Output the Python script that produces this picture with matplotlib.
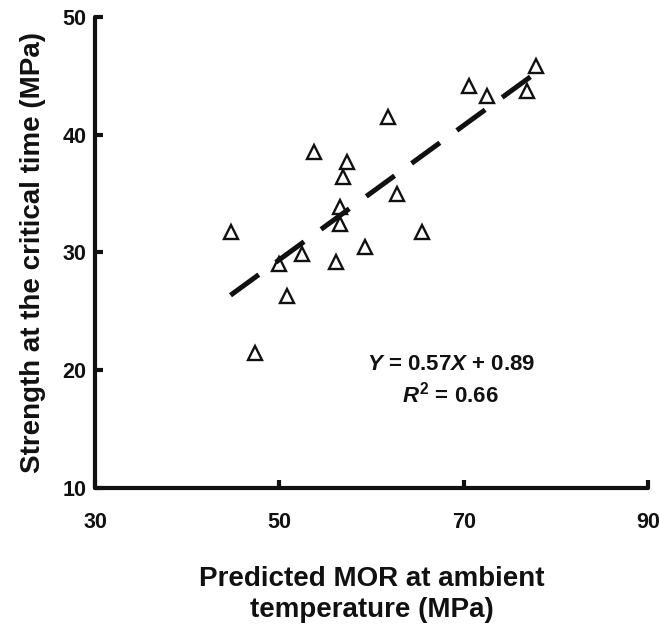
import numpy as np
import matplotlib
matplotlib.use("Agg")
import matplotlib.pyplot as plt

# values
mor = [44.7, 50.0, 52.5, 53.8, 50.8, 57.3, 56.9, 56.6, 56.6, 62.8,
       65.5, 59.3, 56.2, 70.6, 72.5, 76.9, 77.8, 47.4, 61.8]
strength = [31.7, 29.0, 29.9, 38.5, 26.3, 37.7, 36.4, 33.9, 32.4, 35.0,
            31.7, 30.5, 29.2, 44.1, 43.3, 43.7, 45.8, 21.5, 41.5]
slope = 0.57
intercept = 0.89
x_ticks = [30, 50, 70, 90]
y_ticks = [10, 20, 30, 40, 50]

plt.rcParams['font.family'] = ['Liberation Sans', 'DejaVu Sans']
plt.rcParams['font.weight'] = 'bold'
plt.rcParams['mathtext.fontset'] = 'custom'
plt.rcParams['mathtext.rm'] = 'Liberation Sans:bold'
plt.rcParams['mathtext.it'] = 'Liberation Sans:bold:italic'
plt.rcParams['mathtext.bf'] = 'Liberation Sans:bold'

fig = plt.figure(figsize=(6.59, 6.27), dpi=100)
ax = fig.add_axes([0.1442, 0.2217, 0.8391, 0.7512])

ax.plot(mor, strength, linestyle='none', marker='^', markersize=10.5,
        markerfacecolor='white', markeredgecolor='#111111',
        markeredgewidth=1.7, clip_on=False, zorder=3)

# fitted line over the data range
fx = np.array([min(mor), max(mor)])
fy = slope * fx + intercept
ax.plot(fx, fy, color='#111111', lw=3.6, dashes=(7, 4.2),
        solid_capstyle='butt', dash_capstyle='butt', zorder=4)

ax.text(68.6, 20.45, r"$Y$ = 0.57$X$ + 0.89", ha='center', va='center',
        fontsize=16, fontweight='bold', color='#111111')
ax.text(68.6, 17.9, r"$R^2$ = 0.66", ha='center', va='center',
        fontsize=16, fontweight='bold', color='#111111')

ax.set_xlim(30, 90)
ax.set_ylim(10, 50)
ax.set_xticks(x_ticks)
ax.set_yticks(y_ticks)

for s in ['top', 'right']:
    ax.spines[s].set_visible(False)
for s in ['left', 'bottom']:
    ax.spines[s].set_linewidth(3)
    ax.spines[s].set_color('#111111')
    ax.spines[s].set_capstyle('round')

ax.tick_params(axis='both', direction='in', length=6, width=3,
               color='#111111', labelsize=15.5, labelcolor='#111111')
ax.tick_params(axis='x', pad=17)
ax.tick_params(axis='y', pad=6)
for lab in ax.get_xticklabels() + ax.get_yticklabels():
    lab.set_fontweight('bold')

ax.set_xlabel("Predicted MOR at ambient\ntemperature (MPa)", fontsize=20,
              fontweight='bold', labelpad=24, color='#111111', linespacing=1.25)
ax.set_ylabel("Strength at the critical time (MPa)", fontsize=20,
              fontweight='bold', labelpad=12, color='#111111')

fig.savefig("out.png", dpi=100)
